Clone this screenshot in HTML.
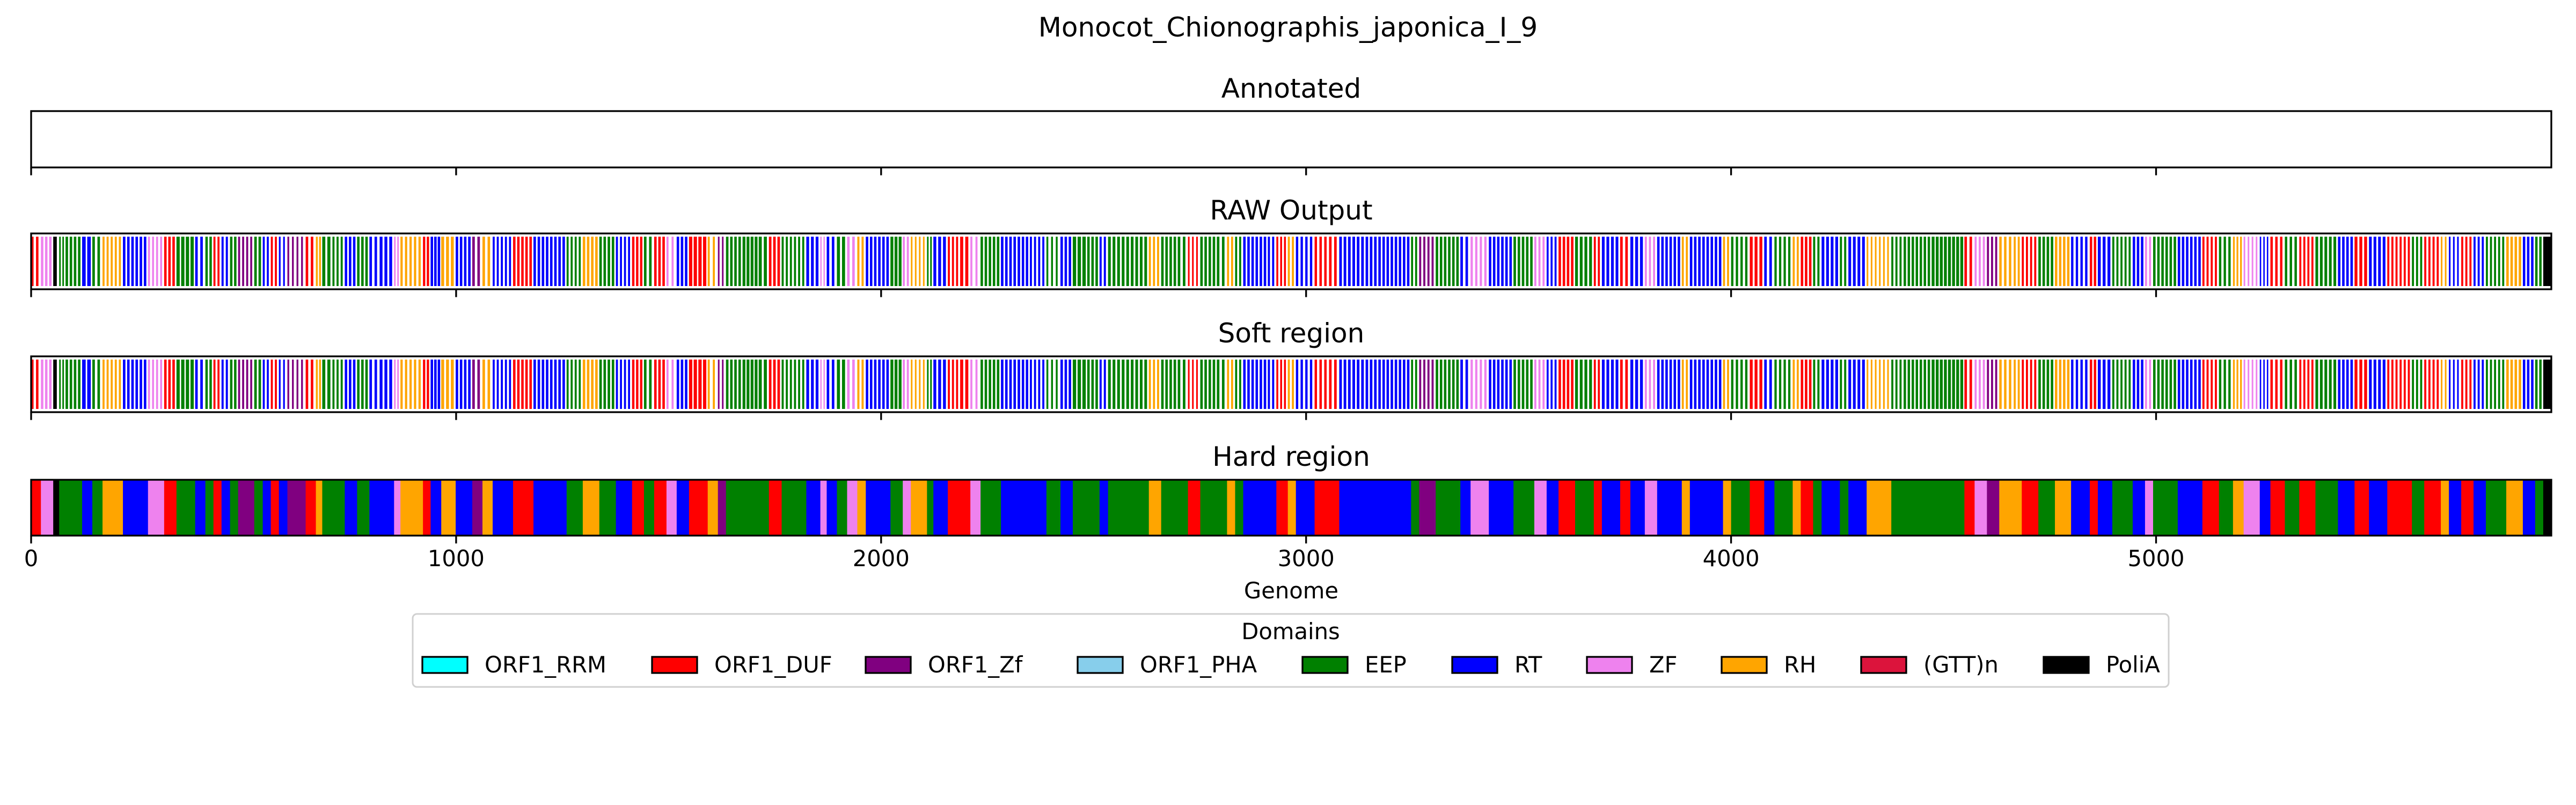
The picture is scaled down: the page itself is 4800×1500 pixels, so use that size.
<!DOCTYPE html>
<html><head><meta charset="utf-8"><style>
html,body{margin:0;padding:0;background:#fff;}
svg{display:block;font-family:"DejaVu Sans","Liberation Sans",sans-serif;}
</style></head><body>
<svg id="fig" width="4800" height="1500" viewBox="0 0 4800 1500" xmlns="http://www.w3.org/2000/svg">
<rect x="0" y="0" width="4800" height="1500" fill="#fff"/>
<text x="2400" y="68" font-size="50" text-anchor="middle">Monocot_Chionographis_japonica_I_9</text>
<g id="panels"></g>
<g id="legend"></g>
</svg>
<script>
// ---- data ----
const domainNames = ["ORF1_RRM","ORF1_DUF","ORF1_Zf","ORF1_PHA","EEP","RT","ZF","RH","(GTT)n","PoliA"];
const domainColors = ["#00ffff","#ff0000","#800080","#87ceeb","#008000","#0000ff","#ee82ee","#ffa500","#dc143c","#000000"];
const domainCodes = {R:1,P:2,G:4,B:5,V:6,O:7,K:9};
const tickValues = [0,1000,2000,3000,4000,5000];
const genomeLength = 5930;
const hardStart = [0,23,52,66,81,120,144,168,216,275,313,342,386,410,429,448,468,487,525,545,564,583,603,646,670,685,709,738,767,796,820,854,869,922,940,965,999,1038,1062,1086,1134,1182,1221,1260,1298,1337,1376,1414,
1442,1466,1495,1519,1548,1592,1616,1635,1674,1712,1736,1766,1824,1857,1872,1896,1920,1944,1964,2022,2051,2070,2108,2123,2157,2186,2210,2234,2282,2331,2350,2389,2422,2451,2485,2514,2534,2577,2630,2659,2698,2722,2751,2790,2814,2833,2852,2910,2930,
2957,2976,3020,3054,3078,3140,3170,3247,3266,3305,3363,3387,3430,3488,3537,3566,3594,3633,3677,3696,3739,3763,3797,3826,3884,3903,3981,4000,4044,4078,4102,4145,4164,4193,4213,4256,4276,4319,4377,4406,
4472,4549,4573,4602,4631,4665,4684,4723,4762,4800,4844,4863,4897,4945,4974,4993,5051,5109,5148,5181,5206,5244,5269,5303,5337,5375,5428,5467,5501,5544,5602,5631,5670,5689,5718,5747,5776,5824,5863,5892,5911];
const hardDom = "RVKGGBGOBVRGBGRBGPGBRBPROGGBGBBVORBOBPOBRBBGOGBR".split("").slice(0,48)
  .concat("GRVBROPGGGRGBVBGVOBGVOGBRRVGBBBGBGGBGGOGGRGGOGBBR".split(""))
  .concat("OBRRBBBGPGBVBGVBRGRBRBVBOBOGRBGORGBGBOGG".split(""))
  .concat("GRVPOORGOBRBGBVGBRGOVBRGRGBRBRGROBRBGOBGK".split(""));
// raw/soft coverage (fraction of each hard segment that is coloured, read by eye)
const rawCover = [0.5,0.6,0.6,0.5,0.6,0.7,0.5,0.5,0.6,0.5,0.6,0.7,0.5,0.6,0.5,0.5,0.6,0.5,0.6,0.5,0.5,0.4,0.4,0.5,0.6,0.6,0.5,0.6,0.6,0.5,0.6,0.5,0.5,0.6,0.7,0.6,0.6,0.5,0.5,0.5,0.6,0.6,0.6,0.5,0.6,0.6,0.5,0.6,
0.5,0.6,0.4,0.6,0.7,0.4,0.4,0.6,0.7,0.6,0.6,0.5,0.6,0.4,0.5,0.6,0.5,0.5,0.6,0.7,0.5,0.4,0.5,0.6,0.5,0.6,0.4,0.6,0.6,0.6,0.5,0.4,0.6,0.7,0.6,0.5,0.6,0.6,0.5,0.6,0.5,0.4,0.6,0.5,0.5,0.5,0.6,0.5,0.5,
0.5,0.5,0.5,0.5,0.6,0.6,0.6,0.5,0.5,0.6,0.5,0.5,0.6,0.6,0.5,0.5,0.6,0.6,0.5,0.6,0.5,0.6,0.5,0.6,0.5,0.6,0.5,0.5,0.6,0.5,0.5,0.5,0.6,0.5,0.6,0.5,0.6,0.4,0.5,0.6,
0.7,0.5,0.5,0.5,0.5,0.5,0.5,0.6,0.6,0.5,0.6,0.6,0.5,0.6,0.5,0.6,0.6,0.5,0.5,0.5,0.4,0.4,0.5,0.5,0.5,0.6,0.6,0.6,0.6,0.5,0.5,0.5,0.4,0.4,0.5,0.5,0.5,0.6,0.6,0.6,1.0];

// ---- layout ----
const X0 = 58, X1 = 4754;
const xs = v => X0 + (v / genomeLength) * (X1 - X0);
const panels = [
  {name:"Annotated", key:"annotated", top:207, bottom:312, titleY:182, labels:false},
  {name:"RAW Output", key:"raw-output", top:435, bottom:539, titleY:409, labels:false},
  {name:"Soft region", key:"soft-region", top:664, bottom:768, titleY:638, labels:false},
  {name:"Hard region", key:"hard-region", top:894, bottom:998, titleY:868, labels:true}
];
const NS = "http://www.w3.org/2000/svg";
function mk(tag, attrs, parent){
  const e = document.createElementNS(NS, tag);
  for (const k in attrs) e.setAttribute(k, attrs[k]);
  parent.appendChild(e); return e;
}
const G = document.getElementById("panels");
panels.forEach(p => {
  const g = mk("g", {}, G);
  
  
  const t = mk("text", {x:2406, y:p.titleY, "font-size":50, "text-anchor":"middle"}, g);
  t.textContent = p.name;
  
  
  const h = p.bottom - p.top;
  if (p.key !== "annotated") {
    for (let i = 0; i < hardStart.length; i++) {
      const s = hardStart[i];
      const e = i + 1 < hardStart.length ? hardStart[i+1] : genomeLength;
      const col = domainColors[domainCodes[hardDom[i]] ?? 5];
      if (p.key === "hard-region") {
        const r = mk("rect", {x:xs(s), y:p.top, width:Math.max(xs(e)-xs(s),1)+0.5, height:h, fill:col}, g);
        
        
      } else {
        const cov = rawCover[i] ?? 0.5;
        const n = Math.max(1, Math.round((e - s) / 10));
        const step = (e - s) / n;
        for (let k = 0; k < n; k++) {
          const a = s + k * step;
          const r = mk("rect", {x:xs(a), y:p.top+6, width:Math.max(xs(a+step*cov)-xs(a),2), height:h-12, fill:col}, g);
          
          
        }
      }
    }
  }
  const frame = mk("rect", {x:X0, y:p.top, width:X1-X0, height:h, fill:"none", stroke:"#000", "stroke-width":3.3}, g);
  
  
  tickValues.forEach(v => {
    const tk = mk("line", {x1:xs(v), x2:xs(v), y1:p.bottom, y2:p.bottom+14.6, stroke:"#000", "stroke-width":3.3}, g);
    
    
    if (p.labels) {
      const tl = mk("text", {x:xs(v), y:p.bottom+57, "font-size":41.7, "text-anchor":"middle"}, g);
      tl.textContent = v;
      
      
    }
  });
});
const xt = mk("text", {x:2406, y:1115, "font-size":41.7, "text-anchor":"middle"}, G);
xt.textContent = "Genome";



// legend
const L = document.getElementById("legend");
const box = mk("rect", {x:769, y:1144, width:3272, height:136, rx:8, fill:"#fff", stroke:"#d0d0d0", "stroke-width":3}, L);


const lt = mk("text", {x:2405, y:1191, "font-size":41.7, "text-anchor":"middle"}, L);
lt.textContent = "Domains";


const legendX = [787,1215,1613,2008,2427,2706,2957,3208,3468,3808];
domainNames.forEach((nm, i) => {
  const eg = mk("g", {}, L);
  
  
  mk("rect", {x:legendX[i], y:1224, width:84, height:30, fill:domainColors[i], stroke:"#000", "stroke-width":3.3}, eg);
  const tx = mk("text", {x:legendX[i]+116, y:1253, "font-size":41.7}, eg);
  tx.textContent = nm;
});
</script>
</body></html>
